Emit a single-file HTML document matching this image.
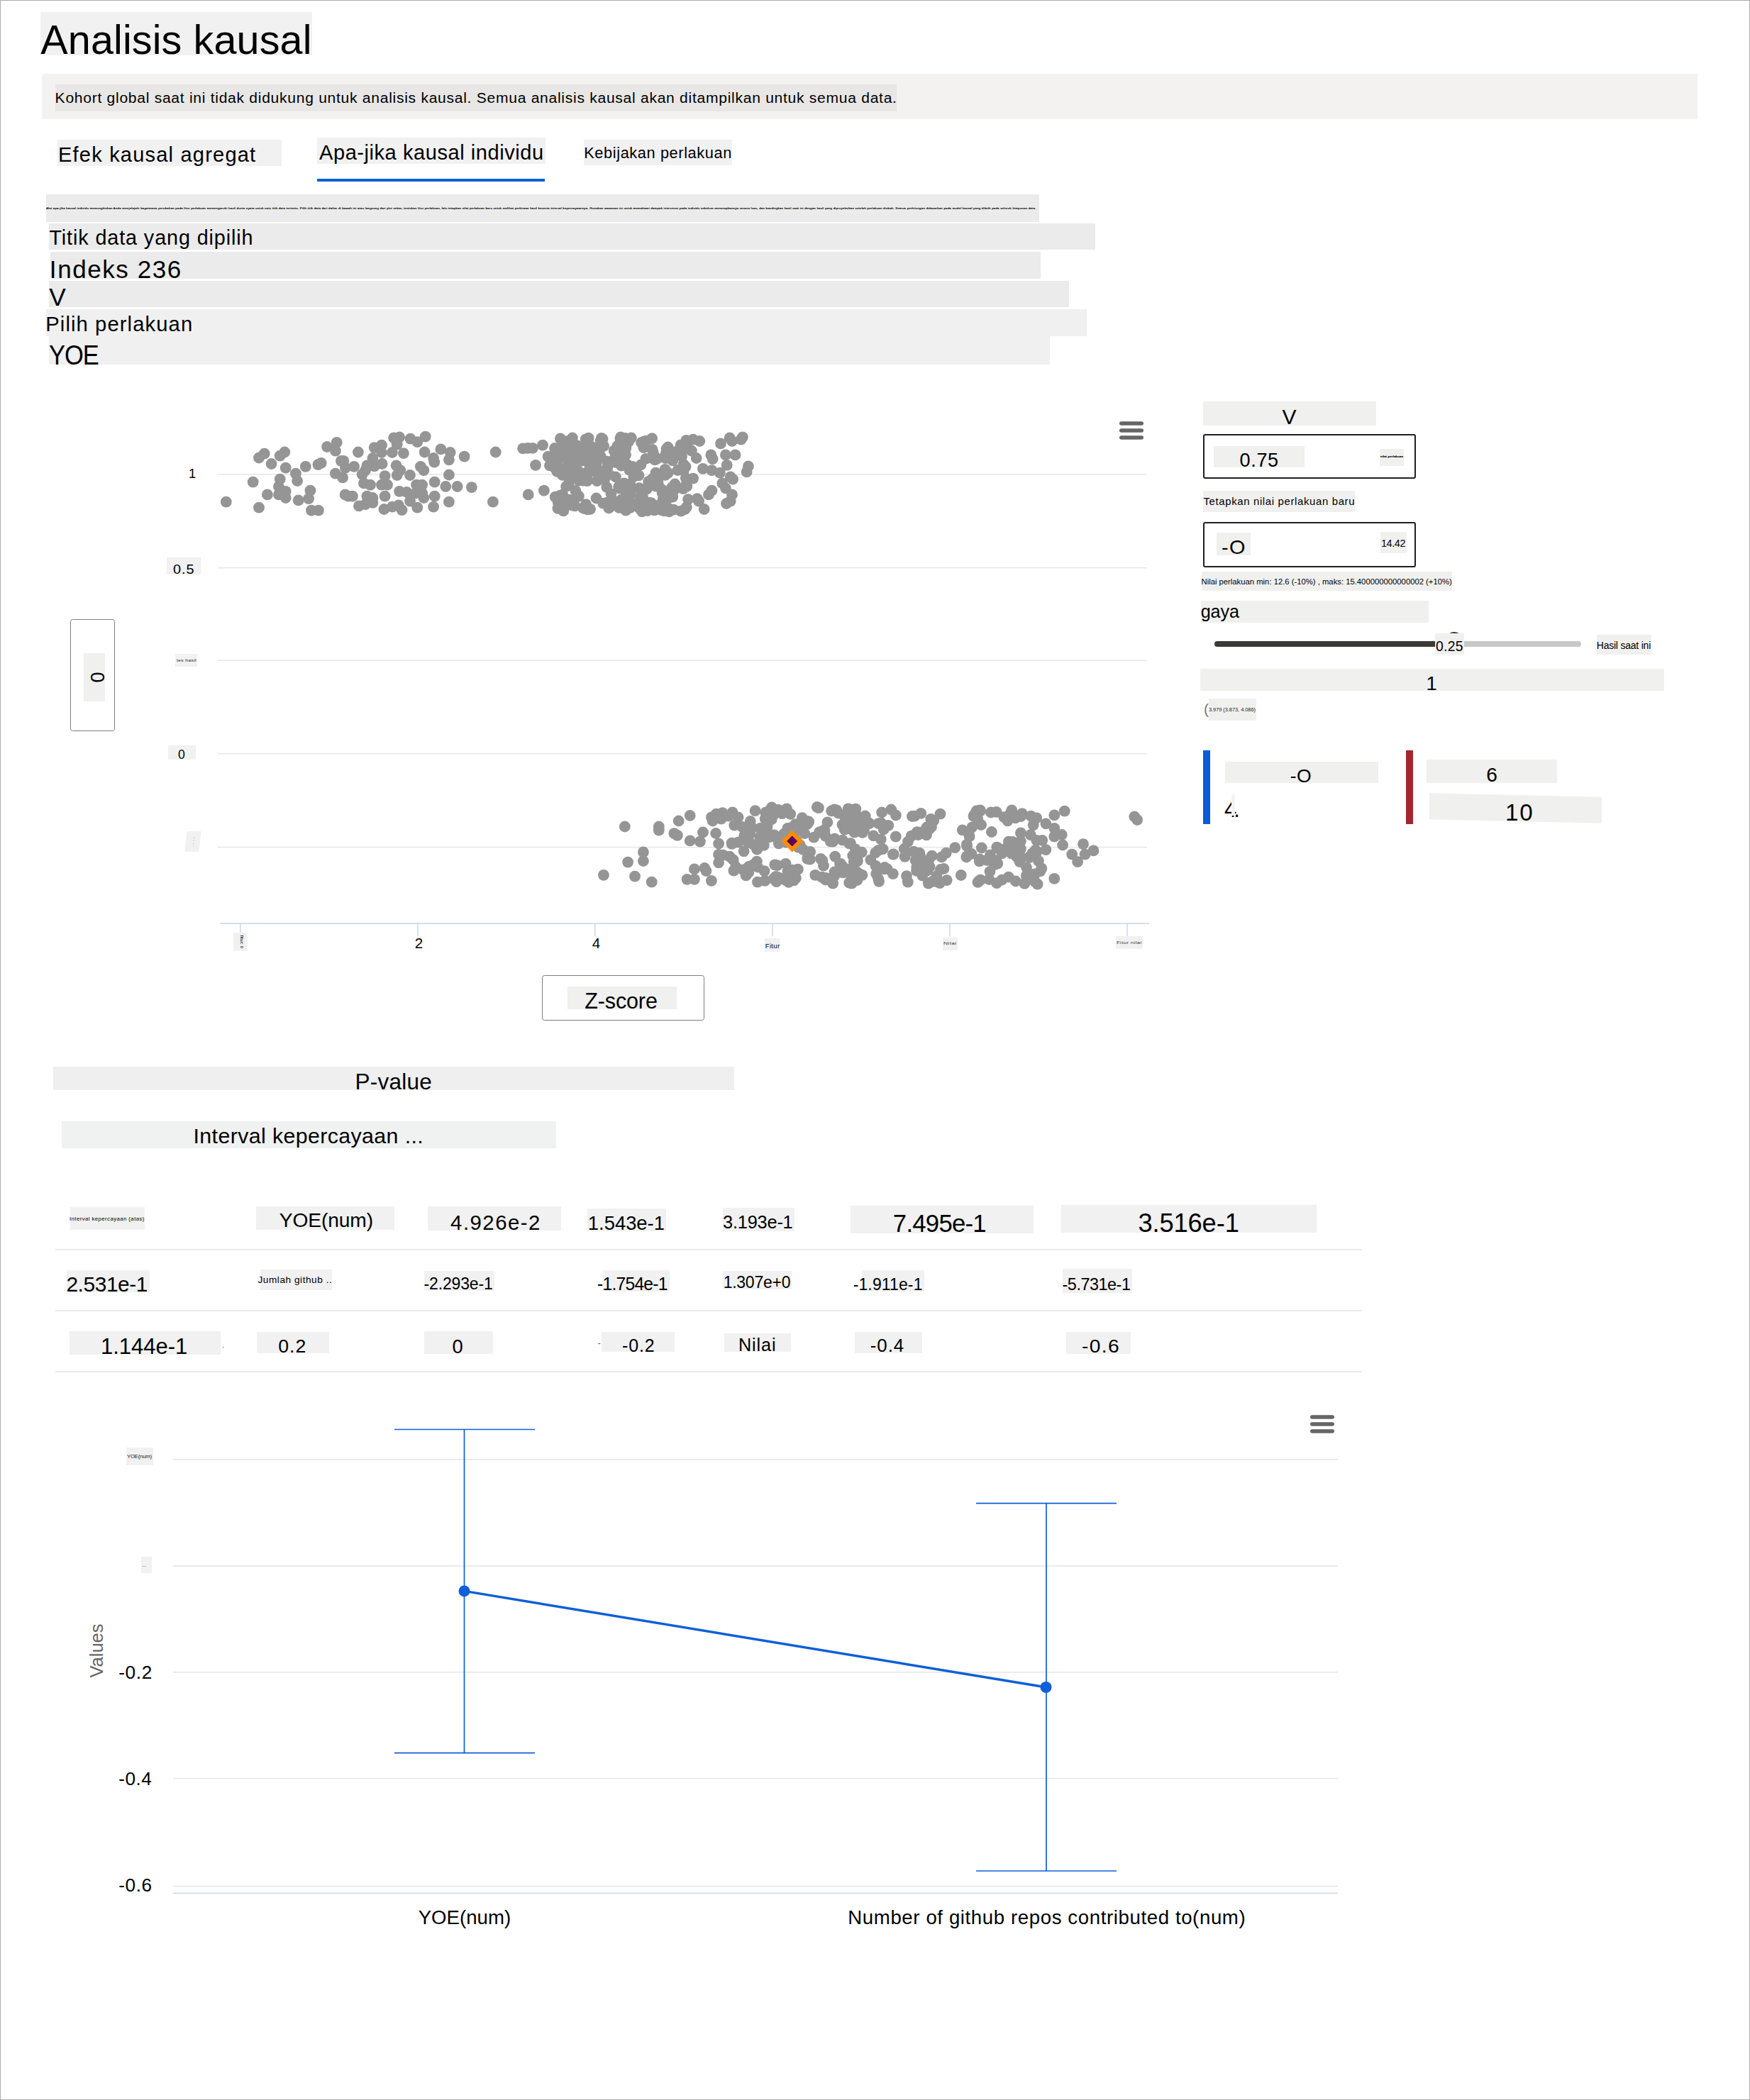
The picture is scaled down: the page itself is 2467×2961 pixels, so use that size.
<!DOCTYPE html>
<html lang="id"><head><meta charset="utf-8"><title>Analisis kausal</title>
<style>
html,body{margin:0;padding:0;background:#fff}
body{width:2467px;height:2961px;position:relative;overflow:hidden;font-family:"Liberation Sans",sans-serif;color:#000}
#frame{position:absolute;left:0;top:0;width:2467px;height:2961px;box-sizing:border-box;border:1px solid #adadad;pointer-events:none;z-index:5}
.sec{margin:0;padding:0;font-weight:normal;font-size:0}
.b{position:absolute;display:block}
.t{position:absolute;white-space:nowrap;font-weight:400}
.chart{position:absolute;overflow:visible}
.inp{position:absolute;box-sizing:border-box;border:2px solid #1f1f1f;border-radius:3px;background:#fff}
.dd{position:absolute;box-sizing:border-box;border:1.9px solid #7e7d7b;border-radius:3.5px;background:#fff}
.sl{position:absolute}
</style></head>
<body>
<div id="frame"></div>
<h1 class="sec">
<span class="b" style="left:57.0px;top:17.0px;width:383.0px;height:60.5px;background:#f1f1f1;"></span>
<span class="t" style="left:57.30px;top:28.00px;font-size:57.56px;line-height:57.56px;letter-spacing:0.106px;">Analisis kausal</span>
</h1>
<div class="sec banner">
<span class="b" style="left:59.0px;top:104.0px;width:2334.0px;height:64.0px;background:#f3f2f1;"></span>
<span class="b" style="left:78.0px;top:119.0px;width:1185.7px;height:38.0px;background:#e8e7e6;"></span>
<span class="t" style="left:77.61px;top:127.00px;font-size:21.08px;line-height:21.08px;letter-spacing:0.712px;">Kohort global saat ini tidak didukung untuk analisis kausal. Semua analisis kausal akan ditampilkan untuk semua data.</span>
</div>
<nav class="sec tabs">
<span class="b" style="left:81.0px;top:196.6px;width:316.0px;height:37.9px;background:#f1f1f1;"></span>
<span class="t" style="left:81.97px;top:204.00px;font-size:29.07px;line-height:29.07px;letter-spacing:1.186px;">Efek kausal agregat</span>
<span class="b" style="left:447.0px;top:193.7px;width:322.0px;height:37.8px;background:#f1f1f1;"></span>
<span class="t" style="left:450.00px;top:201.00px;font-size:29.07px;line-height:29.07px;letter-spacing:0.540px;">Apa-jika kausal individu</span>
<span class="b" style="left:447.0px;top:251.5px;width:321.0px;height:4.7px;background:#0f5fd7;"></span>
<span class="b" style="left:823.0px;top:196.6px;width:209.0px;height:36.4px;background:#f1f1f1;"></span>
<span class="t" style="left:823.26px;top:205.00px;font-size:21.80px;line-height:21.80px;letter-spacing:0.585px;">Kebijakan perlakuan</span>
</nav>
<section class="sec selectors">
<span class="b" style="left:65.0px;top:274.0px;width:1400.0px;height:39.0px;background:#ebebeb;"></span>
<span class="t" style="left:65.30px;top:292.00px;font-size:4.20px;line-height:4.20px;letter-spacing:0.210px;transform:scaleX(1.0401);transform-origin:0 0;-webkit-text-stroke:0.15px #000;">Alat apa-jika kausal individu memungkinkan Anda menjelajahi bagaimana perubahan pada fitur perlakuan memengaruhi hasil dunia nyata untuk satu titik data tertentu. Pilih titik data dari daftar di bawah ini atau langsung dari plot sebar, tentukan fitur perlakuan, lalu tetapkan nilai perlakuan baru untuk melihat perkiraan hasil beserta interval kepercayaannya. Gunakan wawasan ini untuk memahami dampak intervensi pada individu sebelum menerapkannya secara luas, dan bandingkan hasil saat ini dengan hasil yang diproyeksikan setelah perlakuan diubah. Semua perhitungan didasarkan pada model kausal yang dilatih pada seluruh himpunan data.</span>
<span class="b" style="left:69.0px;top:315.0px;width:1475.0px;height:37.0px;background:#ebebeb;"></span>
<span class="t" style="left:69.42px;top:321.00px;font-size:28.78px;line-height:28.78px;letter-spacing:0.893px;">Titik data yang dipilih</span>
<span class="b" style="left:71.0px;top:354.8px;width:1396.0px;height:38.0px;background:#ebebeb;"></span>
<span class="t" style="left:69.85px;top:362.00px;font-size:35.03px;line-height:35.03px;letter-spacing:1.562px;">Indeks 236</span>
<span class="b" style="left:69.0px;top:396.0px;width:1438.0px;height:37.0px;background:#ebebeb;"></span>
<span class="t" style="left:69.32px;top:401.00px;font-size:35.32px;line-height:35.32px;">V</span>
<span class="b" style="left:65.0px;top:435.5px;width:1467.0px;height:38.5px;background:#f0f0f0;"></span>
<span class="t" style="left:64.26px;top:443.00px;font-size:29.22px;line-height:29.22px;letter-spacing:1.088px;">Pilih perlakuan</span>
<span class="b" style="left:69.0px;top:474.0px;width:1411.0px;height:40.0px;background:#f0f0f0;"></span>
<span class="t" style="left:69.31px;top:481.00px;font-size:39.10px;line-height:39.10px;letter-spacing:-1.173px;transform:scaleX(0.8817);transform-origin:0 0;">YOE</span>
</section>
<aside class="sec panel">
<span class="b" style="left:1696.0px;top:565.5px;width:244.0px;height:34.3px;background:#f0f0ef;"></span>
<span class="t" style="left:1807.47px;top:573.00px;font-size:29.94px;line-height:29.94px;">V</span>
<div class="inp" style="left:1696px;top:612.2px;width:300px;height:63.2px"></div>
<span class="b" style="left:1710.9px;top:628.9px;width:128.6px;height:30.4px;background:#f0f0ef;"></span>
<span class="t" style="left:1747.52px;top:635.00px;font-size:27.12px;line-height:27.12px;letter-spacing:0.641px;">0.75</span>
<span class="b" style="left:1944.7px;top:632.7px;width:34.3px;height:24.0px;background:#f0f0ef;"></span>
<span class="t" style="left:1945.71px;top:643.00px;font-size:3.40px;line-height:3.40px;letter-spacing:0.170px;transform:scaleX(1.3188);transform-origin:0 0;-webkit-text-stroke:0.2px #000;">nilai perlakuan</span>
<span class="b" style="left:1696.0px;top:691.9px;width:213.7px;height:30.4px;background:#f0f0ef;"></span>
<span class="t" style="left:1696.40px;top:700.00px;font-size:14.97px;line-height:14.97px;letter-spacing:0.628px;">Tetapkan nilai perlakuan baru</span>
<div class="inp" style="left:1696px;top:736px;width:300px;height:63.5px"></div>
<span class="b" style="left:1715.0px;top:751.3px;width:48.4px;height:31.6px;background:#f0f0ef;"></span>
<span class="t" style="left:1722.10px;top:759.00px;font-size:26.89px;line-height:26.89px;letter-spacing:1.344px;transform:scaleX(1.0740);transform-origin:0 0;">-O</span>
<span class="b" style="left:1945.8px;top:750.0px;width:37.1px;height:30.0px;background:#f0f0ef;"></span>
<span class="t" style="left:1946.92px;top:759.00px;font-size:14.83px;line-height:14.83px;letter-spacing:-0.445px;transform:scaleX(0.9748);transform-origin:0 0;">14.42</span>
<span class="b" style="left:1694.0px;top:806.0px;width:353.0px;height:27.0px;background:#f0f0ef;"></span>
<span class="t" style="left:1693.49px;top:815.00px;font-size:11.34px;line-height:11.34px;letter-spacing:-0.023px;">Nilai perlakuan min: 12.6 (-10%) , maks: 15.400000000000002 (+10%)</span>
<span class="b" style="left:1693.0px;top:847.0px;width:321.0px;height:30.7px;background:#f0f0ef;"></span>
<span class="t" style="left:1692.69px;top:850.00px;font-size:25.20px;line-height:25.20px;letter-spacing:-0.083px;">gaya</span>
<div class="sl" style="left:1711.5px;top:903.5px;width:316px;height:8.5px;background:#3b3a39;border-radius:4.25px 0 0 4.25px"></div>
<div class="sl" style="left:2060px;top:903.8px;width:168.8px;height:8px;background:#c8c8c8;border-radius:0 4px 4px 0"></div>
<div class="sl" style="left:2038.5px;top:891.4px;width:22px;height:22px;border:3px solid #3b3a39;border-radius:50%;box-sizing:border-box;background:#fff"></div>
<span class="b" style="left:2022.9px;top:893.3px;width:41.1px;height:30.1px;background:#f0f0ef;"></span>
<span class="t" style="left:2023.93px;top:902.00px;font-size:19.35px;line-height:19.35px;letter-spacing:0.304px;">0.25</span>
<span class="b" style="left:2250.7px;top:894.7px;width:77.3px;height:28.3px;background:#f0f0ef;"></span>
<span class="t" style="left:2250.78px;top:904.00px;font-size:13.95px;line-height:13.95px;letter-spacing:-0.194px;">Hasil saat ini</span>
<span class="b" style="left:1692.0px;top:943.0px;width:654.0px;height:31.0px;background:#f0f0ef;"></span>
<span class="t" style="left:2010.54px;top:950.00px;font-size:27.40px;line-height:27.40px;">1</span>
<span class="t" style="left:1697.04px;top:989.00px;font-size:21.00px;line-height:21.00px;color:#777;">(</span>
<span class="b" style="left:1703.5px;top:985.0px;width:67.5px;height:31.0px;background:#f0f0ef;"></span>
<span class="t" style="left:1703.94px;top:997.00px;font-size:7.41px;line-height:7.41px;letter-spacing:-0.034px;color:#222;">3.979 (3.873, 4.086)</span>
<span class="b" style="left:1696.0px;top:1057.8px;width:9.8px;height:104.0px;background:#0b5cd7;"></span>
<span class="b" style="left:1726.9px;top:1073.8px;width:216.0px;height:30.2px;background:#f0f0ef;"></span>
<span class="t" style="left:1818.70px;top:1081.00px;font-size:26.60px;line-height:26.60px;letter-spacing:0.469px;">-O</span>
<span class="t" style="left:1725.98px;top:1126.00px;font-size:31.07px;line-height:31.07px;">4</span>
<span class="b" style="left:1735.5px;top:1120.0px;width:5.7px;height:30.0px;background:#f4f4f4;"></span>
<span class="t" style="left:1739.20px;top:1126.00px;font-size:31.07px;line-height:31.07px;">.</span>
<span class="b" style="left:1982.2px;top:1057.8px;width:9.8px;height:104.0px;background:#a4262c;"></span>
<span class="b" style="left:2011.0px;top:1071.0px;width:184.0px;height:33.3px;background:#f0f0ef;"></span>
<span class="t" style="left:2095.19px;top:1079.00px;font-size:28.11px;line-height:28.11px;">6</span>
<span class="b" style="left:2015.4px;top:1121.0px;width:243.0px;height:37.0px;background:#f0f0ef;transform:skewY(1.25deg);"></span>
<span class="t" style="left:2122.01px;top:1130.00px;font-size:32.91px;line-height:32.91px;letter-spacing:1.645px;transform:scaleX(1.0100);transform-origin:0 0;">10</span>
</aside>
<section class="sec tablewrap">
<span class="b" style="left:74.7px;top:1504.0px;width:959.9px;height:33.0px;background:#efefef;"></span>
<span class="t" style="left:500.48px;top:1510.00px;font-size:31.54px;line-height:31.54px;letter-spacing:0.227px;">P-value</span>
<span class="b" style="left:86.7px;top:1580.8px;width:697.1px;height:38.0px;background:#f0f1f1;"></span>
<span class="t" style="left:272.57px;top:1586.00px;font-size:30.38px;line-height:30.38px;letter-spacing:0.365px;">Interval kepercayaan ...</span>
<span class="b" style="left:78.0px;top:1761.2px;width:1842.0px;height:1.5px;background:#ebebeb;"></span>
<span class="b" style="left:78.0px;top:1847.2px;width:1842.0px;height:1.5px;background:#ebebeb;"></span>
<span class="b" style="left:78.0px;top:1933.2px;width:1842.0px;height:1.5px;background:#ebebeb;"></span>
<span class="b" style="left:98.9px;top:1702.0px;width:104.8px;height:31.7px;background:#f1f1f1;"></span>
<span class="t" style="left:98.29px;top:1715.00px;font-size:7.70px;line-height:7.70px;letter-spacing:0.385px;transform:scaleX(1.0217);transform-origin:0 0;">Interval kepercayaan (atas)</span>
<span class="b" style="left:361.1px;top:1700.6px;width:194.9px;height:33.7px;background:#f1f1f1;"></span>
<span class="t" style="left:393.74px;top:1706.00px;font-size:28.20px;line-height:28.20px;letter-spacing:-0.120px;">YOE(num)</span>
<span class="b" style="left:602.9px;top:1700.9px;width:188.5px;height:34.1px;background:#f1f1f1;"></span>
<span class="t" style="left:635.11px;top:1709.00px;font-size:29.38px;line-height:29.38px;letter-spacing:1.469px;">4.926e-2</span>
<span class="b" style="left:828.0px;top:1704.3px;width:111.4px;height:31.4px;background:#f1f1f1;"></span>
<span class="t" style="left:828.84px;top:1711.00px;font-size:27.40px;line-height:27.40px;">1.543e-1</span>
<span class="b" style="left:1018.9px;top:1702.9px;width:101.1px;height:32.8px;background:#f1f1f1;"></span>
<span class="t" style="left:1019.11px;top:1711.00px;font-size:25.42px;line-height:25.42px;letter-spacing:-0.238px;">3.193e-1</span>
<span class="b" style="left:1199.0px;top:1700.0px;width:257.6px;height:38.6px;background:#f1f1f1;"></span>
<span class="t" style="left:1258.86px;top:1708.00px;font-size:34.75px;line-height:34.75px;letter-spacing:-0.767px;">7.495e-1</span>
<span class="b" style="left:1496.0px;top:1699.4px;width:359.7px;height:38.6px;background:#f1f1f1;"></span>
<span class="t" style="left:1604.43px;top:1707.00px;font-size:36.30px;line-height:36.30px;letter-spacing:-0.128px;">3.516e-1</span>
<span class="b" style="left:94.3px;top:1790.6px;width:116.6px;height:31.4px;background:#f1f1f1;"></span>
<span class="t" style="left:93.40px;top:1796.00px;font-size:29.94px;line-height:29.94px;letter-spacing:-0.440px;">2.531e-1</span>
<span class="b" style="left:366.6px;top:1790.0px;width:101.1px;height:29.0px;background:#f1f1f1;"></span>
<span class="t" style="left:363.50px;top:1798.00px;font-size:13.66px;line-height:13.66px;letter-spacing:0.525px;">Jumlah github ..</span>
<span class="b" style="left:597.7px;top:1792.0px;width:98.9px;height:28.0px;background:#f1f1f1;"></span>
<span class="t" style="left:597.56px;top:1799.00px;font-size:23.02px;line-height:23.02px;letter-spacing:-0.171px;">-2.293e-1</span>
<span class="b" style="left:850.0px;top:1791.4px;width:94.3px;height:29.5px;background:#f1f1f1;"></span>
<span class="t" style="left:842.29px;top:1798.00px;font-size:25.00px;line-height:25.00px;letter-spacing:-0.750px;transform:scaleX(0.9843);transform-origin:0 0;">-1.754e-1</span>
<span class="b" style="left:1018.9px;top:1792.0px;width:96.8px;height:26.0px;background:#f1f1f1;"></span>
<span class="t" style="left:1019.67px;top:1797.00px;font-size:23.02px;line-height:23.02px;letter-spacing:-0.266px;">1.307e+0</span>
<span class="b" style="left:1214.9px;top:1791.4px;width:88.0px;height:29.2px;background:#f1f1f1;"></span>
<span class="t" style="left:1202.66px;top:1800.00px;font-size:23.02px;line-height:23.02px;letter-spacing:0.120px;">-1.911e-1</span>
<span class="b" style="left:1498.0px;top:1789.0px;width:98.0px;height:33.9px;background:#f1f1f1;"></span>
<span class="t" style="left:1497.54px;top:1800.00px;font-size:23.45px;line-height:23.45px;letter-spacing:-0.493px;">-5.731e-1</span>
<span class="b" style="left:97.7px;top:1876.6px;width:213.2px;height:33.4px;background:#f1f1f1;"></span>
<span class="t" style="left:141.97px;top:1883.00px;font-size:31.07px;line-height:31.07px;letter-spacing:-0.037px;">1.144e-1</span>
<span class="b" style="left:313.6px;top:1898.6px;width:1.6px;height:1.6px;background:#222;"></span>
<span class="b" style="left:362.3px;top:1877.7px;width:101.4px;height:30.0px;background:#f1f1f1;"></span>
<span class="t" style="left:392.33px;top:1885.00px;font-size:26.69px;line-height:26.69px;letter-spacing:0.948px;">0.2</span>
<span class="b" style="left:597.7px;top:1877.0px;width:97.2px;height:32.4px;background:#f1f1f1;"></span>
<span class="t" style="left:637.50px;top:1885.00px;font-size:27.40px;line-height:27.40px;">0</span>
<span class="t" style="left:842.86px;top:1888.00px;font-size:12.00px;line-height:12.00px;color:#555;">-</span>
<span class="b" style="left:848.0px;top:1878.0px;width:103.4px;height:28.3px;background:#f1f1f1;"></span>
<span class="t" style="left:876.88px;top:1885.00px;font-size:25.00px;line-height:25.00px;letter-spacing:0.925px;">-0.2</span>
<span class="b" style="left:1020.9px;top:1880.0px;width:94.0px;height:26.3px;background:#f1f1f1;"></span>
<span class="t" style="left:1040.88px;top:1884.00px;font-size:25.29px;line-height:25.29px;letter-spacing:0.894px;">Nilai</span>
<span class="b" style="left:1204.9px;top:1878.0px;width:95.1px;height:29.7px;background:#f1f1f1;"></span>
<span class="t" style="left:1226.84px;top:1885.00px;font-size:25.85px;line-height:25.85px;letter-spacing:0.917px;">-0.4</span>
<span class="b" style="left:1502.9px;top:1877.7px;width:90.8px;height:30.9px;background:#f1f1f1;"></span>
<span class="t" style="left:1525.03px;top:1886.00px;font-size:25.00px;line-height:25.00px;letter-spacing:1.250px;transform:scaleX(1.1272);transform-origin:0 0;">-0.6</span>
</section>
<svg class="chart" style="left:0;top:540px" width="1660" height="920" viewBox="0 540 1660 920" font-family="Liberation Sans, sans-serif">
<rect x="307" y="668.05" width="1310" height="1.5" fill="#e6e6e6"/>
<rect x="307" y="799.85" width="1310" height="1.5" fill="#e6e6e6"/>
<rect x="307" y="930.25" width="1310" height="1.5" fill="#e6e6e6"/>
<rect x="307" y="1061.85" width="1310" height="1.5" fill="#e6e6e6"/>
<rect x="307" y="1193.85" width="1310" height="1.5" fill="#e6e6e6"/>
<g fill="#959595">
<circle cx="318.8" cy="707.7" r="7.9"/>
<circle cx="356.7" cy="679.6" r="7.9"/>
<circle cx="365.0" cy="715.7" r="7.9"/>
<circle cx="365.0" cy="645.5" r="7.9"/>
<circle cx="372.7" cy="639.6" r="7.9"/>
<circle cx="376.9" cy="697.4" r="7.9"/>
<circle cx="382.6" cy="654.0" r="7.9"/>
<circle cx="394.7" cy="642.6" r="7.9"/>
<circle cx="401.3" cy="637.5" r="7.9"/>
<circle cx="402.7" cy="659.7" r="7.9"/>
<circle cx="394.7" cy="675.7" r="7.9"/>
<circle cx="392.9" cy="686.0" r="7.9"/>
<circle cx="392.9" cy="697.4" r="7.9"/>
<circle cx="402.7" cy="692.9" r="7.9"/>
<circle cx="402.7" cy="702.0" r="7.9"/>
<circle cx="416.9" cy="667.7" r="7.9"/>
<circle cx="419.1" cy="678.0" r="7.9"/>
<circle cx="420.7" cy="705.4" r="7.9"/>
<circle cx="430.8" cy="657.9" r="7.9"/>
<circle cx="435.1" cy="703.1" r="7.9"/>
<circle cx="437.4" cy="691.7" r="7.9"/>
<circle cx="439.0" cy="719.6" r="7.9"/>
<circle cx="448.9" cy="719.6" r="7.9"/>
<circle cx="448.4" cy="655.1" r="7.9"/>
<circle cx="452.7" cy="652.9" r="7.9"/>
<circle cx="461.0" cy="630.0" r="7.9"/>
<circle cx="474.7" cy="623.8" r="7.9"/>
<circle cx="472.9" cy="635.7" r="7.9"/>
<circle cx="472.9" cy="667.7" r="7.9"/>
<circle cx="483.1" cy="673.4" r="7.9"/>
<circle cx="480.9" cy="649.9" r="7.9"/>
<circle cx="484.3" cy="649.9" r="7.9"/>
<circle cx="487.0" cy="659.7" r="7.9"/>
<circle cx="499.1" cy="657.9" r="7.9"/>
<circle cx="504.9" cy="637.5" r="7.9"/>
<circle cx="486.6" cy="697.4" r="7.9"/>
<circle cx="491.1" cy="699.7" r="7.9"/>
<circle cx="496.9" cy="699.7" r="7.9"/>
<circle cx="506.0" cy="713.4" r="7.9"/>
<circle cx="515.1" cy="711.1" r="7.9"/>
<circle cx="525.4" cy="708.9" r="7.9"/>
<circle cx="517.4" cy="699.7" r="7.9"/>
<circle cx="525.4" cy="702.0" r="7.9"/>
<circle cx="512.9" cy="681.4" r="7.9"/>
<circle cx="522.0" cy="683.7" r="7.9"/>
<circle cx="510.6" cy="668.9" r="7.9"/>
<circle cx="515.1" cy="663.1" r="7.9"/>
<circle cx="517.4" cy="656.3" r="7.9"/>
<circle cx="525.4" cy="646.0" r="7.9"/>
<circle cx="527.7" cy="657.4" r="7.9"/>
<circle cx="527.7" cy="631.1" r="7.9"/>
<circle cx="538.0" cy="627.7" r="7.9"/>
<circle cx="538.0" cy="638.0" r="7.9"/>
<circle cx="538.7" cy="654.0" r="7.9"/>
<circle cx="542.6" cy="671.1" r="7.9"/>
<circle cx="538.0" cy="683.7" r="7.9"/>
<circle cx="546.0" cy="683.7" r="7.9"/>
<circle cx="542.6" cy="699.7" r="7.9"/>
<circle cx="541.4" cy="718.0" r="7.9"/>
<circle cx="552.9" cy="714.6" r="7.9"/>
<circle cx="562.0" cy="712.3" r="7.9"/>
<circle cx="566.6" cy="719.1" r="7.9"/>
<circle cx="552.9" cy="638.0" r="7.9"/>
<circle cx="555.1" cy="617.4" r="7.9"/>
<circle cx="563.1" cy="616.3" r="7.9"/>
<circle cx="559.7" cy="626.6" r="7.9"/>
<circle cx="568.9" cy="639.1" r="7.9"/>
<circle cx="578.5" cy="618.6" r="7.9"/>
<circle cx="588.3" cy="623.1" r="7.9"/>
<circle cx="599.7" cy="615.6" r="7.9"/>
<circle cx="598.6" cy="637.5" r="7.9"/>
<circle cx="558.6" cy="656.3" r="7.9"/>
<circle cx="564.3" cy="663.1" r="7.9"/>
<circle cx="559.7" cy="670.0" r="7.9"/>
<circle cx="578.0" cy="670.0" r="7.9"/>
<circle cx="592.9" cy="657.9" r="7.9"/>
<circle cx="597.4" cy="663.1" r="7.9"/>
<circle cx="563.1" cy="692.9" r="7.9"/>
<circle cx="573.4" cy="694.0" r="7.9"/>
<circle cx="580.3" cy="697.4" r="7.9"/>
<circle cx="587.1" cy="683.7" r="7.9"/>
<circle cx="595.1" cy="683.7" r="7.9"/>
<circle cx="587.1" cy="695.1" r="7.9"/>
<circle cx="595.1" cy="695.1" r="7.9"/>
<circle cx="597.4" cy="702.0" r="7.9"/>
<circle cx="578.0" cy="706.6" r="7.9"/>
<circle cx="588.3" cy="715.7" r="7.9"/>
<circle cx="611.1" cy="646.0" r="7.9"/>
<circle cx="612.3" cy="651.7" r="7.9"/>
<circle cx="621.4" cy="633.4" r="7.9"/>
<circle cx="634.7" cy="638.0" r="7.9"/>
<circle cx="632.9" cy="648.3" r="7.9"/>
<circle cx="654.6" cy="643.7" r="7.9"/>
<circle cx="632.9" cy="669.5" r="7.9"/>
<circle cx="612.7" cy="679.6" r="7.9"/>
<circle cx="628.3" cy="686.0" r="7.9"/>
<circle cx="644.7" cy="686.0" r="7.9"/>
<circle cx="664.9" cy="687.1" r="7.9"/>
<circle cx="612.7" cy="699.7" r="7.9"/>
<circle cx="611.1" cy="714.6" r="7.9"/>
<circle cx="632.9" cy="707.7" r="7.9"/>
<circle cx="698.7" cy="637.5" r="7.9"/>
<circle cx="694.9" cy="707.7" r="7.9"/>
<circle cx="737.1" cy="632.3" r="7.9"/>
<circle cx="744.0" cy="631.8" r="7.9"/>
<circle cx="750.9" cy="631.8" r="7.9"/>
<circle cx="765.0" cy="627.7" r="7.9"/>
<circle cx="755.0" cy="655.8" r="7.9"/>
<circle cx="772.6" cy="643.7" r="7.9"/>
<circle cx="774.9" cy="656.3" r="7.9"/>
<circle cx="744.7" cy="697.4" r="7.9"/>
<circle cx="766.9" cy="691.7" r="7.9"/>
<circle cx="1002.3" cy="641.4" r="7.9"/>
<circle cx="1004.6" cy="647.1" r="7.9"/>
<circle cx="1016.0" cy="625.4" r="7.9"/>
<circle cx="1028.6" cy="617.4" r="7.9"/>
<circle cx="1032.0" cy="622.0" r="7.9"/>
<circle cx="1046.9" cy="616.3" r="7.9"/>
<circle cx="1044.6" cy="619.7" r="7.9"/>
<circle cx="1022.9" cy="641.4" r="7.9"/>
<circle cx="1036.6" cy="641.4" r="7.9"/>
<circle cx="1024.7" cy="655.8" r="7.9"/>
<circle cx="1054.9" cy="657.4" r="7.9"/>
<circle cx="1052.6" cy="665.4" r="7.9"/>
<circle cx="990.9" cy="660.9" r="7.9"/>
<circle cx="1003.4" cy="663.1" r="7.9"/>
<circle cx="1014.9" cy="666.6" r="7.9"/>
<circle cx="1029.7" cy="672.3" r="7.9"/>
<circle cx="1033.1" cy="675.7" r="7.9"/>
<circle cx="1018.3" cy="681.4" r="7.9"/>
<circle cx="1022.9" cy="688.3" r="7.9"/>
<circle cx="1032.0" cy="697.4" r="7.9"/>
<circle cx="1003.4" cy="691.7" r="7.9"/>
<circle cx="998.9" cy="697.4" r="7.9"/>
<circle cx="1029.7" cy="706.6" r="7.9"/>
<circle cx="1024.0" cy="710.0" r="7.9"/>
<circle cx="982.9" cy="703.1" r="7.9"/>
<circle cx="985.1" cy="706.6" r="7.9"/>
<circle cx="992.7" cy="718.0" r="7.9"/>
<circle cx="965.7" cy="718.0" r="7.9"/>
<circle cx="977.1" cy="619.7" r="7.9"/>
<circle cx="986.3" cy="622.0" r="7.9"/>
<circle cx="974.9" cy="635.7" r="7.9"/>
<circle cx="981.7" cy="646.0" r="7.9"/>
<circle cx="977.1" cy="674.6" r="7.9"/>
<circle cx="843.5" cy="632.0" r="7.9"/>
<circle cx="905.7" cy="623.7" r="7.9"/>
<circle cx="883.8" cy="654.8" r="7.9"/>
<circle cx="793.0" cy="669.8" r="7.9"/>
<circle cx="789.1" cy="662.0" r="7.9"/>
<circle cx="795.3" cy="625.6" r="7.9"/>
<circle cx="862.7" cy="703.6" r="7.9"/>
<circle cx="805.5" cy="639.7" r="7.9"/>
<circle cx="901.2" cy="716.5" r="7.9"/>
<circle cx="891.6" cy="658.0" r="7.9"/>
<circle cx="967.5" cy="620.9" r="7.9"/>
<circle cx="945.1" cy="646.7" r="7.9"/>
<circle cx="809.4" cy="628.5" r="7.9"/>
<circle cx="840.6" cy="702.5" r="7.9"/>
<circle cx="816.3" cy="677.6" r="7.9"/>
<circle cx="903.4" cy="655.5" r="7.9"/>
<circle cx="886.1" cy="622.7" r="7.9"/>
<circle cx="793.3" cy="637.8" r="7.9"/>
<circle cx="841.7" cy="678.1" r="7.9"/>
<circle cx="868.1" cy="647.8" r="7.9"/>
<circle cx="932.9" cy="690.1" r="7.9"/>
<circle cx="828.4" cy="676.9" r="7.9"/>
<circle cx="881.8" cy="708.8" r="7.9"/>
<circle cx="920.6" cy="646.5" r="7.9"/>
<circle cx="968.2" cy="628.5" r="7.9"/>
<circle cx="861.4" cy="696.3" r="7.9"/>
<circle cx="810.9" cy="667.8" r="7.9"/>
<circle cx="927.3" cy="676.7" r="7.9"/>
<circle cx="948.3" cy="649.3" r="7.9"/>
<circle cx="914.1" cy="679.0" r="7.9"/>
<circle cx="892.2" cy="664.4" r="7.9"/>
<circle cx="941.6" cy="716.1" r="7.9"/>
<circle cx="872.1" cy="686.4" r="7.9"/>
<circle cx="905.0" cy="721.3" r="7.9"/>
<circle cx="938.2" cy="646.2" r="7.9"/>
<circle cx="855.3" cy="686.9" r="7.9"/>
<circle cx="786.3" cy="664.9" r="7.9"/>
<circle cx="813.9" cy="628.4" r="7.9"/>
<circle cx="793.2" cy="697.4" r="7.9"/>
<circle cx="806.6" cy="642.2" r="7.9"/>
<circle cx="856.3" cy="708.4" r="7.9"/>
<circle cx="797.3" cy="663.6" r="7.9"/>
<circle cx="886.4" cy="709.6" r="7.9"/>
<circle cx="937.7" cy="707.6" r="7.9"/>
<circle cx="834.9" cy="660.0" r="7.9"/>
<circle cx="850.2" cy="709.7" r="7.9"/>
<circle cx="964.0" cy="632.0" r="7.9"/>
<circle cx="815.5" cy="640.6" r="7.9"/>
<circle cx="826.3" cy="667.4" r="7.9"/>
<circle cx="782.8" cy="660.4" r="7.9"/>
<circle cx="852.2" cy="676.0" r="7.9"/>
<circle cx="963.1" cy="689.2" r="7.9"/>
<circle cx="879.9" cy="681.5" r="7.9"/>
<circle cx="910.5" cy="621.7" r="7.9"/>
<circle cx="948.2" cy="700.6" r="7.9"/>
<circle cx="856.6" cy="658.3" r="7.9"/>
<circle cx="801.7" cy="683.2" r="7.9"/>
<circle cx="793.8" cy="623.1" r="7.9"/>
<circle cx="821.7" cy="633.2" r="7.9"/>
<circle cx="846.6" cy="621.6" r="7.9"/>
<circle cx="782.0" cy="632.0" r="7.9"/>
<circle cx="801.3" cy="654.5" r="7.9"/>
<circle cx="786.8" cy="708.7" r="7.9"/>
<circle cx="829.9" cy="652.8" r="7.9"/>
<circle cx="851.2" cy="629.0" r="7.9"/>
<circle cx="943.3" cy="721.3" r="7.9"/>
<circle cx="798.3" cy="626.8" r="7.9"/>
<circle cx="847.1" cy="644.1" r="7.9"/>
<circle cx="939.5" cy="633.1" r="7.9"/>
<circle cx="786.4" cy="716.8" r="7.9"/>
<circle cx="882.4" cy="631.5" r="7.9"/>
<circle cx="885.2" cy="618.9" r="7.9"/>
<circle cx="882.3" cy="719.7" r="7.9"/>
<circle cx="946.0" cy="689.8" r="7.9"/>
<circle cx="831.6" cy="654.9" r="7.9"/>
<circle cx="813.7" cy="697.8" r="7.9"/>
<circle cx="883.2" cy="698.6" r="7.9"/>
<circle cx="844.6" cy="639.6" r="7.9"/>
<circle cx="936.2" cy="720.4" r="7.9"/>
<circle cx="944.0" cy="701.4" r="7.9"/>
<circle cx="937.5" cy="694.4" r="7.9"/>
<circle cx="825.1" cy="670.9" r="7.9"/>
<circle cx="849.6" cy="619.1" r="7.9"/>
<circle cx="787.3" cy="645.6" r="7.9"/>
<circle cx="963.7" cy="663.4" r="7.9"/>
<circle cx="960.0" cy="720.7" r="7.9"/>
<circle cx="963.5" cy="654.7" r="7.9"/>
<circle cx="823.9" cy="640.0" r="7.9"/>
<circle cx="819.4" cy="637.7" r="7.9"/>
<circle cx="900.6" cy="711.4" r="7.9"/>
<circle cx="941.7" cy="666.8" r="7.9"/>
<circle cx="906.1" cy="700.8" r="7.9"/>
<circle cx="798.1" cy="686.0" r="7.9"/>
<circle cx="924.5" cy="666.7" r="7.9"/>
<circle cx="815.9" cy="699.6" r="7.9"/>
<circle cx="966.6" cy="658.0" r="7.9"/>
<circle cx="858.3" cy="716.4" r="7.9"/>
<circle cx="919.7" cy="634.0" r="7.9"/>
<circle cx="806.1" cy="632.0" r="7.9"/>
<circle cx="809.8" cy="703.6" r="7.9"/>
<circle cx="968.3" cy="685.7" r="7.9"/>
<circle cx="848.6" cy="674.2" r="7.9"/>
<circle cx="806.9" cy="617.5" r="7.9"/>
<circle cx="966.5" cy="684.9" r="7.9"/>
<circle cx="882.1" cy="715.0" r="7.9"/>
<circle cx="864.4" cy="708.4" r="7.9"/>
<circle cx="939.0" cy="638.4" r="7.9"/>
<circle cx="829.8" cy="647.1" r="7.9"/>
<circle cx="827.7" cy="678.2" r="7.9"/>
<circle cx="831.3" cy="660.4" r="7.9"/>
<circle cx="806.9" cy="712.5" r="7.9"/>
<circle cx="849.2" cy="664.6" r="7.9"/>
<circle cx="892.8" cy="711.9" r="7.9"/>
<circle cx="861.9" cy="713.3" r="7.9"/>
<circle cx="881.5" cy="618.0" r="7.9"/>
<circle cx="865.6" cy="635.4" r="7.9"/>
<circle cx="782.7" cy="700.7" r="7.9"/>
<circle cx="814.7" cy="666.2" r="7.9"/>
<circle cx="919.8" cy="675.0" r="7.9"/>
<circle cx="843.9" cy="670.9" r="7.9"/>
<circle cx="887.5" cy="699.1" r="7.9"/>
<circle cx="802.2" cy="675.4" r="7.9"/>
<circle cx="829.2" cy="645.4" r="7.9"/>
<circle cx="928.7" cy="669.8" r="7.9"/>
<circle cx="888.7" cy="696.6" r="7.9"/>
<circle cx="955.4" cy="663.0" r="7.9"/>
<circle cx="898.4" cy="669.6" r="7.9"/>
<circle cx="879.3" cy="689.4" r="7.9"/>
<circle cx="867.9" cy="672.5" r="7.9"/>
<circle cx="872.8" cy="715.8" r="7.9"/>
<circle cx="914.9" cy="708.9" r="7.9"/>
<circle cx="961.0" cy="643.5" r="7.9"/>
<circle cx="888.3" cy="716.0" r="7.9"/>
<circle cx="941.6" cy="630.5" r="7.9"/>
<circle cx="805.1" cy="662.9" r="7.9"/>
<circle cx="795.8" cy="641.5" r="7.9"/>
<circle cx="930.9" cy="711.1" r="7.9"/>
<circle cx="811.3" cy="691.9" r="7.9"/>
<circle cx="907.4" cy="631.2" r="7.9"/>
<circle cx="949.7" cy="718.6" r="7.9"/>
<circle cx="823.7" cy="717.0" r="7.9"/>
<circle cx="857.7" cy="667.6" r="7.9"/>
<circle cx="970.1" cy="704.2" r="7.9"/>
<circle cx="812.7" cy="661.7" r="7.9"/>
<circle cx="880.0" cy="651.9" r="7.9"/>
<circle cx="819.2" cy="649.8" r="7.9"/>
<circle cx="919.2" cy="618.1" r="7.9"/>
<circle cx="887.3" cy="662.7" r="7.9"/>
<circle cx="785.4" cy="651.1" r="7.9"/>
<circle cx="900.5" cy="670.3" r="7.9"/>
<circle cx="794.2" cy="720.4" r="7.9"/>
<circle cx="931.8" cy="719.0" r="7.9"/>
<circle cx="801.9" cy="644.1" r="7.9"/>
<circle cx="789.5" cy="698.6" r="7.9"/>
<circle cx="833.4" cy="629.7" r="7.9"/>
<circle cx="862.2" cy="712.6" r="7.9"/>
<circle cx="937.6" cy="643.4" r="7.9"/>
<circle cx="810.4" cy="713.4" r="7.9"/>
<circle cx="890.4" cy="690.2" r="7.9"/>
<circle cx="799.0" cy="622.1" r="7.9"/>
<circle cx="795.8" cy="715.5" r="7.9"/>
<circle cx="902.5" cy="701.0" r="7.9"/>
<circle cx="797.9" cy="706.8" r="7.9"/>
<circle cx="794.7" cy="707.5" r="7.9"/>
<circle cx="868.2" cy="652.0" r="7.9"/>
<circle cx="887.1" cy="714.2" r="7.9"/>
<circle cx="832.9" cy="629.7" r="7.9"/>
<circle cx="882.1" cy="641.3" r="7.9"/>
<circle cx="802.8" cy="633.1" r="7.9"/>
<circle cx="791.6" cy="637.4" r="7.9"/>
<circle cx="841.3" cy="648.3" r="7.9"/>
<circle cx="926.3" cy="646.7" r="7.9"/>
<circle cx="877.0" cy="634.9" r="7.9"/>
<circle cx="847.9" cy="617.9" r="7.9"/>
<circle cx="829.6" cy="617.6" r="7.9"/>
<circle cx="921.3" cy="674.4" r="7.9"/>
<circle cx="818.0" cy="666.3" r="7.9"/>
<circle cx="959.6" cy="627.3" r="7.9"/>
<circle cx="937.6" cy="661.8" r="7.9"/>
<circle cx="876.1" cy="704.5" r="7.9"/>
<circle cx="856.7" cy="669.7" r="7.9"/>
<circle cx="912.7" cy="720.1" r="7.9"/>
<circle cx="916.3" cy="683.4" r="7.9"/>
<circle cx="858.9" cy="652.8" r="7.9"/>
<circle cx="792.3" cy="629.8" r="7.9"/>
<circle cx="830.6" cy="633.3" r="7.9"/>
<circle cx="798.1" cy="705.2" r="7.9"/>
<circle cx="947.4" cy="687.1" r="7.9"/>
<circle cx="835.6" cy="641.7" r="7.9"/>
<circle cx="837.7" cy="664.7" r="7.9"/>
<circle cx="811.9" cy="663.3" r="7.9"/>
<circle cx="832.0" cy="717.9" r="7.9"/>
<circle cx="966.8" cy="674.0" r="7.9"/>
<circle cx="828.4" cy="718.4" r="7.9"/>
<circle cx="840.8" cy="653.8" r="7.9"/>
<circle cx="782.2" cy="656.5" r="7.9"/>
<circle cx="820.2" cy="669.5" r="7.9"/>
<circle cx="782.9" cy="644.0" r="7.9"/>
<circle cx="799.1" cy="658.3" r="7.9"/>
<circle cx="789.9" cy="618.4" r="7.9"/>
<circle cx="839.8" cy="640.7" r="7.9"/>
<circle cx="893.3" cy="672.1" r="7.9"/>
<circle cx="924.6" cy="685.7" r="7.9"/>
<circle cx="918.0" cy="709.2" r="7.9"/>
<circle cx="856.0" cy="650.6" r="7.9"/>
<circle cx="969.1" cy="631.8" r="7.9"/>
<circle cx="919.6" cy="684.2" r="7.9"/>
<circle cx="790.3" cy="704.5" r="7.9"/>
<circle cx="951.5" cy="682.5" r="7.9"/>
<circle cx="808.5" cy="671.5" r="7.9"/>
<circle cx="877.8" cy="704.5" r="7.9"/>
<circle cx="934.9" cy="703.6" r="7.9"/>
<circle cx="893.0" cy="710.6" r="7.9"/>
<circle cx="911.8" cy="689.5" r="7.9"/>
<circle cx="825.7" cy="619.3" r="7.9"/>
<circle cx="807.3" cy="654.2" r="7.9"/>
<circle cx="801.9" cy="704.6" r="7.9"/>
<circle cx="888.1" cy="682.5" r="7.9"/>
<circle cx="901.0" cy="688.2" r="7.9"/>
<circle cx="875.0" cy="616.4" r="7.9"/>
<circle cx="933.6" cy="695.3" r="7.9"/>
<circle cx="907.3" cy="623.0" r="7.9"/>
<circle cx="922.0" cy="642.7" r="7.9"/>
<circle cx="796.1" cy="644.1" r="7.9"/>
<circle cx="920.6" cy="637.8" r="7.9"/>
<circle cx="922.6" cy="719.4" r="7.9"/>
<circle cx="875.9" cy="656.6" r="7.9"/>
<circle cx="873.0" cy="688.5" r="7.9"/>
<circle cx="927.7" cy="681.4" r="7.9"/>
<circle cx="904.1" cy="624.2" r="7.9"/>
<circle cx="810.0" cy="642.9" r="7.9"/>
<circle cx="923.2" cy="648.3" r="7.9"/>
<circle cx="889.9" cy="617.3" r="7.9"/>
<circle cx="793.5" cy="644.5" r="7.9"/>
<circle cx="909.7" cy="689.4" r="7.9"/>
<circle cx="910.4" cy="646.8" r="7.9"/>
<circle cx="870.6" cy="628.6" r="7.9"/>
<circle cx="951.8" cy="637.1" r="7.9"/>
<circle cx="967.8" cy="715.2" r="7.9"/>
<circle cx="785.3" cy="664.7" r="7.9"/>
<circle cx="937.8" cy="718.6" r="7.9"/>
<circle cx="867.4" cy="644.5" r="7.9"/>
<circle cx="821.9" cy="716.2" r="7.9"/>
<circle cx="822.0" cy="677.6" r="7.9"/>
<circle cx="808.9" cy="671.6" r="7.9"/>
<circle cx="963.0" cy="630.1" r="7.9"/>
<circle cx="937.8" cy="669.9" r="7.9"/>
<circle cx="950.5" cy="690.6" r="7.9"/>
<circle cx="826.0" cy="711.2" r="7.9"/>
<circle cx="874.4" cy="618.6" r="7.9"/>
<circle cx="850.9" cy="1233.9" r="7.9"/>
<circle cx="880.8" cy="1165.5" r="7.9"/>
<circle cx="885.1" cy="1215.6" r="7.9"/>
<circle cx="895.0" cy="1235.7" r="7.9"/>
<circle cx="906.9" cy="1201.4" r="7.9"/>
<circle cx="906.9" cy="1214.0" r="7.9"/>
<circle cx="918.7" cy="1243.7" r="7.9"/>
<circle cx="928.8" cy="1165.5" r="7.9"/>
<circle cx="928.8" cy="1170.6" r="7.9"/>
<circle cx="950.3" cy="1175.1" r="7.9"/>
<circle cx="954.9" cy="1177.9" r="7.9"/>
<circle cx="956.7" cy="1157.5" r="7.9"/>
<circle cx="972.7" cy="1150.0" r="7.9"/>
<circle cx="972.7" cy="1185.4" r="7.9"/>
<circle cx="986.9" cy="1186.6" r="7.9"/>
<circle cx="991.0" cy="1173.5" r="7.9"/>
<circle cx="978.9" cy="1225.4" r="7.9"/>
<circle cx="968.6" cy="1239.8" r="7.9"/>
<circle cx="978.9" cy="1239.8" r="7.9"/>
<circle cx="1002.9" cy="1241.9" r="7.9"/>
<circle cx="1013.1" cy="1189.5" r="7.9"/>
<circle cx="1013.1" cy="1204.9" r="7.9"/>
<circle cx="1013.1" cy="1216.3" r="7.9"/>
<circle cx="1028.5" cy="1207.6" r="7.9"/>
<circle cx="1037.1" cy="1222.0" r="7.9"/>
<circle cx="1034.4" cy="1227.7" r="7.9"/>
<circle cx="1002.9" cy="1152.3" r="7.9"/>
<circle cx="1009.7" cy="1147.7" r="7.9"/>
<circle cx="1018.4" cy="1146.1" r="7.9"/>
<circle cx="1016.6" cy="1154.6" r="7.9"/>
<circle cx="1026.9" cy="1150.7" r="7.9"/>
<circle cx="1032.6" cy="1145.4" r="7.9"/>
<circle cx="1040.6" cy="1152.3" r="7.9"/>
<circle cx="1040.6" cy="1187.7" r="7.9"/>
<circle cx="1048.6" cy="1200.3" r="7.9"/>
<circle cx="1046.3" cy="1166.0" r="7.9"/>
<circle cx="1055.4" cy="1178.6" r="7.9"/>
<circle cx="1057.7" cy="1158.0" r="7.9"/>
<circle cx="1060.0" cy="1167.1" r="7.9"/>
<circle cx="1064.6" cy="1143.1" r="7.9"/>
<circle cx="1055.4" cy="1222.0" r="7.9"/>
<circle cx="1055.4" cy="1230.0" r="7.9"/>
<circle cx="1068.0" cy="1243.7" r="7.9"/>
<circle cx="1078.3" cy="1241.9" r="7.9"/>
<circle cx="1599.3" cy="1151.5" r="7.9"/>
<circle cx="1603.2" cy="1156.0" r="7.9"/>
<circle cx="1500.7" cy="1143.6" r="7.9"/>
<circle cx="1486.3" cy="1149.4" r="7.9"/>
<circle cx="1474.4" cy="1161.3" r="7.9"/>
<circle cx="1486.3" cy="1167.8" r="7.9"/>
<circle cx="1496.8" cy="1177.0" r="7.9"/>
<circle cx="1486.3" cy="1179.7" r="7.9"/>
<circle cx="1498.1" cy="1191.5" r="7.9"/>
<circle cx="1474.4" cy="1198.1" r="7.9"/>
<circle cx="1453.4" cy="1150.7" r="7.9"/>
<circle cx="1461.3" cy="1153.4" r="7.9"/>
<circle cx="1461.3" cy="1184.9" r="7.9"/>
<circle cx="1469.2" cy="1184.9" r="7.9"/>
<circle cx="1527.0" cy="1190.2" r="7.9"/>
<circle cx="1541.5" cy="1199.4" r="7.9"/>
<circle cx="1529.6" cy="1204.6" r="7.9"/>
<circle cx="1511.2" cy="1204.6" r="7.9"/>
<circle cx="1519.1" cy="1215.2" r="7.9"/>
<circle cx="1486.3" cy="1238.8" r="7.9"/>
<circle cx="1458.7" cy="1242.8" r="7.9"/>
<circle cx="1462.6" cy="1246.7" r="7.9"/>
<circle cx="1466.5" cy="1228.3" r="7.9"/>
<circle cx="1458.7" cy="1203.3" r="7.9"/>
<circle cx="1450.8" cy="1208.6" r="7.9"/>
<circle cx="1463.9" cy="1213.8" r="7.9"/>
<circle cx="1437.6" cy="1215.2" r="7.9"/>
<circle cx="1438.9" cy="1174.4" r="7.9"/>
<circle cx="1438.9" cy="1186.2" r="7.9"/>
<circle cx="1438.9" cy="1196.8" r="7.9"/>
<circle cx="1425.8" cy="1203.3" r="7.9"/>
<circle cx="1412.6" cy="1203.3" r="7.9"/>
<circle cx="1396.9" cy="1145.5" r="7.9"/>
<circle cx="1424.5" cy="1146.8" r="7.9"/>
<circle cx="1415.3" cy="1152.1" r="7.9"/>
<circle cx="1420.5" cy="1157.3" r="7.9"/>
<circle cx="1298.3" cy="1146.8" r="7.9"/>
<circle cx="1256.2" cy="1141.5" r="7.9"/>
<circle cx="1243.1" cy="1145.5" r="7.9"/>
<circle cx="1252.3" cy="1163.9" r="7.9"/>
<circle cx="1262.8" cy="1179.7" r="7.9"/>
<circle cx="1258.9" cy="1204.6" r="7.9"/>
<circle cx="1306.2" cy="1217.8" r="7.9"/>
<circle cx="1247.0" cy="1223.0" r="7.9"/>
<circle cx="1258.9" cy="1232.2" r="7.9"/>
<circle cx="1235.2" cy="1232.2" r="7.9"/>
<circle cx="1239.1" cy="1242.8" r="7.9"/>
<circle cx="1198.4" cy="1244.1" r="7.9"/>
<circle cx="1197.1" cy="1230.9" r="7.9"/>
<circle cx="1211.5" cy="1232.2" r="7.9"/>
<circle cx="1062.5" cy="1191.1" r="7.9"/>
<circle cx="1131.0" cy="1170.6" r="7.9"/>
<circle cx="1083.5" cy="1175.1" r="7.9"/>
<circle cx="1110.4" cy="1228.7" r="7.9"/>
<circle cx="1062.3" cy="1219.1" r="7.9"/>
<circle cx="1190.4" cy="1151.0" r="7.9"/>
<circle cx="1203.7" cy="1215.0" r="7.9"/>
<circle cx="1199.9" cy="1169.3" r="7.9"/>
<circle cx="1118.9" cy="1180.4" r="7.9"/>
<circle cx="1214.8" cy="1201.6" r="7.9"/>
<circle cx="1117.2" cy="1184.2" r="7.9"/>
<circle cx="1104.1" cy="1143.2" r="7.9"/>
<circle cx="1077.6" cy="1228.1" r="7.9"/>
<circle cx="1105.7" cy="1239.0" r="7.9"/>
<circle cx="1140.2" cy="1158.5" r="7.9"/>
<circle cx="1119.1" cy="1241.3" r="7.9"/>
<circle cx="1197.3" cy="1225.7" r="7.9"/>
<circle cx="1158.5" cy="1236.6" r="7.9"/>
<circle cx="1205.9" cy="1197.3" r="7.9"/>
<circle cx="1172.1" cy="1143.3" r="7.9"/>
<circle cx="1174.0" cy="1186.7" r="7.9"/>
<circle cx="1177.2" cy="1207.6" r="7.9"/>
<circle cx="1105.8" cy="1143.3" r="7.9"/>
<circle cx="1203.8" cy="1151.7" r="7.9"/>
<circle cx="1134.2" cy="1175.1" r="7.9"/>
<circle cx="1107.6" cy="1217.8" r="7.9"/>
<circle cx="1211.4" cy="1166.1" r="7.9"/>
<circle cx="1162.4" cy="1170.5" r="7.9"/>
<circle cx="1147.3" cy="1180.6" r="7.9"/>
<circle cx="1087.6" cy="1155.5" r="7.9"/>
<circle cx="1093.8" cy="1235.8" r="7.9"/>
<circle cx="1138.1" cy="1161.8" r="7.9"/>
<circle cx="1200.7" cy="1245.6" r="7.9"/>
<circle cx="1130.8" cy="1153.1" r="7.9"/>
<circle cx="1091.4" cy="1147.8" r="7.9"/>
<circle cx="1114.3" cy="1147.8" r="7.9"/>
<circle cx="1149.2" cy="1233.8" r="7.9"/>
<circle cx="1176.7" cy="1182.6" r="7.9"/>
<circle cx="1125.3" cy="1194.6" r="7.9"/>
<circle cx="1119.7" cy="1174.5" r="7.9"/>
<circle cx="1071.5" cy="1168.0" r="7.9"/>
<circle cx="1210.1" cy="1151.6" r="7.9"/>
<circle cx="1139.0" cy="1206.0" r="7.9"/>
<circle cx="1194.0" cy="1161.3" r="7.9"/>
<circle cx="1123.2" cy="1186.2" r="7.9"/>
<circle cx="1208.0" cy="1229.7" r="7.9"/>
<circle cx="1195.6" cy="1140.4" r="7.9"/>
<circle cx="1066.9" cy="1214.6" r="7.9"/>
<circle cx="1199.0" cy="1189.1" r="7.9"/>
<circle cx="1151.8" cy="1138.0" r="7.9"/>
<circle cx="1121.9" cy="1238.1" r="7.9"/>
<circle cx="1188.3" cy="1230.4" r="7.9"/>
<circle cx="1210.8" cy="1164.8" r="7.9"/>
<circle cx="1078.7" cy="1154.7" r="7.9"/>
<circle cx="1141.9" cy="1211.7" r="7.9"/>
<circle cx="1206.0" cy="1215.9" r="7.9"/>
<circle cx="1161.0" cy="1220.6" r="7.9"/>
<circle cx="1132.0" cy="1197.6" r="7.9"/>
<circle cx="1068.1" cy="1222.5" r="7.9"/>
<circle cx="1097.6" cy="1237.4" r="7.9"/>
<circle cx="1160.8" cy="1170.8" r="7.9"/>
<circle cx="1081.6" cy="1165.2" r="7.9"/>
<circle cx="1159.4" cy="1213.4" r="7.9"/>
<circle cx="1079.2" cy="1145.6" r="7.9"/>
<circle cx="1142.2" cy="1201.0" r="7.9"/>
<circle cx="1121.4" cy="1162.1" r="7.9"/>
<circle cx="1154.0" cy="1139.1" r="7.9"/>
<circle cx="1108.1" cy="1187.8" r="7.9"/>
<circle cx="1208.7" cy="1207.6" r="7.9"/>
<circle cx="1197.2" cy="1189.3" r="7.9"/>
<circle cx="1209.0" cy="1214.1" r="7.9"/>
<circle cx="1109.0" cy="1140.4" r="7.9"/>
<circle cx="1138.2" cy="1210.8" r="7.9"/>
<circle cx="1126.3" cy="1165.8" r="7.9"/>
<circle cx="1164.1" cy="1237.9" r="7.9"/>
<circle cx="1096.7" cy="1141.7" r="7.9"/>
<circle cx="1113.7" cy="1183.4" r="7.9"/>
<circle cx="1166.4" cy="1159.4" r="7.9"/>
<circle cx="1184.0" cy="1217.8" r="7.9"/>
<circle cx="1139.2" cy="1160.2" r="7.9"/>
<circle cx="1210.4" cy="1171.7" r="7.9"/>
<circle cx="1187.5" cy="1162.9" r="7.9"/>
<circle cx="1095.9" cy="1220.1" r="7.9"/>
<circle cx="1107.1" cy="1240.8" r="7.9"/>
<circle cx="1137.9" cy="1158.2" r="7.9"/>
<circle cx="1096.2" cy="1183.0" r="7.9"/>
<circle cx="1163.8" cy="1240.5" r="7.9"/>
<circle cx="1084.4" cy="1180.5" r="7.9"/>
<circle cx="1094.6" cy="1243.2" r="7.9"/>
<circle cx="1083.7" cy="1143.6" r="7.9"/>
<circle cx="1071.2" cy="1180.5" r="7.9"/>
<circle cx="1199.4" cy="1233.4" r="7.9"/>
<circle cx="1174.1" cy="1245.7" r="7.9"/>
<circle cx="1204.5" cy="1173.6" r="7.9"/>
<circle cx="1090.4" cy="1239.1" r="7.9"/>
<circle cx="1176.2" cy="1141.4" r="7.9"/>
<circle cx="1163.7" cy="1178.9" r="7.9"/>
<circle cx="1119.2" cy="1173.8" r="7.9"/>
<circle cx="1087.9" cy="1138.3" r="7.9"/>
<circle cx="1104.8" cy="1176.0" r="7.9"/>
<circle cx="1208.2" cy="1151.4" r="7.9"/>
<circle cx="1209.5" cy="1160.4" r="7.9"/>
<circle cx="1116.6" cy="1226.7" r="7.9"/>
<circle cx="1187.8" cy="1184.7" r="7.9"/>
<circle cx="1069.5" cy="1189.1" r="7.9"/>
<circle cx="1119.0" cy="1237.3" r="7.9"/>
<circle cx="1091.5" cy="1177.3" r="7.9"/>
<circle cx="1199.2" cy="1141.3" r="7.9"/>
<circle cx="1124.9" cy="1225.7" r="7.9"/>
<circle cx="1179.3" cy="1142.4" r="7.9"/>
<circle cx="1202.8" cy="1165.8" r="7.9"/>
<circle cx="1176.3" cy="1235.0" r="7.9"/>
<circle cx="1113.9" cy="1167.4" r="7.9"/>
<circle cx="1208.5" cy="1204.6" r="7.9"/>
<circle cx="1110.4" cy="1167.8" r="7.9"/>
<circle cx="1062.6" cy="1219.6" r="7.9"/>
<circle cx="1202.2" cy="1206.5" r="7.9"/>
<circle cx="1206.3" cy="1140.6" r="7.9"/>
<circle cx="1097.8" cy="1189.3" r="7.9"/>
<circle cx="1208.4" cy="1241.0" r="7.9"/>
<circle cx="1121.1" cy="1165.1" r="7.9"/>
<circle cx="1127.8" cy="1191.3" r="7.9"/>
<circle cx="1204.0" cy="1157.8" r="7.9"/>
<circle cx="1184.8" cy="1217.8" r="7.9"/>
<circle cx="1187.9" cy="1221.5" r="7.9"/>
<circle cx="1154.9" cy="1173.4" r="7.9"/>
<circle cx="1110.9" cy="1177.1" r="7.9"/>
<circle cx="1181.7" cy="1146.5" r="7.9"/>
<circle cx="1092.2" cy="1219.3" r="7.9"/>
<circle cx="1099.8" cy="1145.0" r="7.9"/>
<circle cx="1067.2" cy="1197.7" r="7.9"/>
<circle cx="1111.8" cy="1243.9" r="7.9"/>
<circle cx="1197.2" cy="1244.7" r="7.9"/>
<circle cx="1102.5" cy="1147.1" r="7.9"/>
<circle cx="1076.8" cy="1191.8" r="7.9"/>
<circle cx="1170.6" cy="1186.3" r="7.9"/>
<circle cx="1097.8" cy="1183.0" r="7.9"/>
<circle cx="1156.9" cy="1210.8" r="7.9"/>
<circle cx="1176.4" cy="1229.5" r="7.9"/>
<circle cx="1190.7" cy="1169.7" r="7.9"/>
<circle cx="1054.6" cy="1188.0" r="7.9"/>
<circle cx="1057.5" cy="1174.9" r="7.9"/>
<circle cx="1049.2" cy="1178.4" r="7.9"/>
<circle cx="1047.6" cy="1226.3" r="7.9"/>
<circle cx="1054.8" cy="1184.5" r="7.9"/>
<circle cx="1051.7" cy="1234.4" r="7.9"/>
<circle cx="1275.6" cy="1207.9" r="7.9"/>
<circle cx="1289.3" cy="1150.6" r="7.9"/>
<circle cx="1250.6" cy="1225.2" r="7.9"/>
<circle cx="1278.0" cy="1235.1" r="7.9"/>
<circle cx="1218.0" cy="1170.5" r="7.9"/>
<circle cx="1223.9" cy="1159.7" r="7.9"/>
<circle cx="1288.0" cy="1200.7" r="7.9"/>
<circle cx="1284.8" cy="1178.7" r="7.9"/>
<circle cx="1280.0" cy="1186.7" r="7.9"/>
<circle cx="1234.5" cy="1220.9" r="7.9"/>
<circle cx="1285.9" cy="1151.0" r="7.9"/>
<circle cx="1259.7" cy="1204.5" r="7.9"/>
<circle cx="1231.3" cy="1178.3" r="7.9"/>
<circle cx="1225.6" cy="1161.2" r="7.9"/>
<circle cx="1234.1" cy="1202.3" r="7.9"/>
<circle cx="1215.9" cy="1174.0" r="7.9"/>
<circle cx="1238.4" cy="1161.2" r="7.9"/>
<circle cx="1274.6" cy="1197.0" r="7.9"/>
<circle cx="1219.7" cy="1150.5" r="7.9"/>
<circle cx="1244.6" cy="1197.2" r="7.9"/>
<circle cx="1262.9" cy="1149.5" r="7.9"/>
<circle cx="1227.3" cy="1212.3" r="7.9"/>
<circle cx="1245.7" cy="1169.5" r="7.9"/>
<circle cx="1238.1" cy="1239.1" r="7.9"/>
<circle cx="1238.4" cy="1198.9" r="7.9"/>
<circle cx="1241.8" cy="1183.3" r="7.9"/>
<circle cx="1279.8" cy="1243.6" r="7.9"/>
<circle cx="1242.3" cy="1160.5" r="7.9"/>
<circle cx="1215.4" cy="1233.8" r="7.9"/>
<circle cx="1246.8" cy="1225.3" r="7.9"/>
<circle cx="1363.1" cy="1193.0" r="7.9"/>
<circle cx="1373.0" cy="1149.8" r="7.9"/>
<circle cx="1292.7" cy="1173.1" r="7.9"/>
<circle cx="1405.3" cy="1194.6" r="7.9"/>
<circle cx="1306.0" cy="1177.3" r="7.9"/>
<circle cx="1356.8" cy="1170.3" r="7.9"/>
<circle cx="1316.3" cy="1157.0" r="7.9"/>
<circle cx="1383.8" cy="1195.5" r="7.9"/>
<circle cx="1309.6" cy="1169.4" r="7.9"/>
<circle cx="1434.9" cy="1198.0" r="7.9"/>
<circle cx="1325.5" cy="1147.6" r="7.9"/>
<circle cx="1459.8" cy="1198.5" r="7.9"/>
<circle cx="1376.9" cy="1143.2" r="7.9"/>
<circle cx="1456.7" cy="1163.3" r="7.9"/>
<circle cx="1452.8" cy="1177.2" r="7.9"/>
<circle cx="1438.4" cy="1149.6" r="7.9"/>
<circle cx="1431.4" cy="1153.3" r="7.9"/>
<circle cx="1362.8" cy="1190.8" r="7.9"/>
<circle cx="1439.3" cy="1151.0" r="7.9"/>
<circle cx="1383.2" cy="1163.0" r="7.9"/>
<circle cx="1312.2" cy="1154.8" r="7.9"/>
<circle cx="1420.5" cy="1193.8" r="7.9"/>
<circle cx="1297.4" cy="1173.7" r="7.9"/>
<circle cx="1426.3" cy="1142.3" r="7.9"/>
<circle cx="1440.9" cy="1147.1" r="7.9"/>
<circle cx="1397.9" cy="1173.0" r="7.9"/>
<circle cx="1365.6" cy="1175.0" r="7.9"/>
<circle cx="1366.6" cy="1179.5" r="7.9"/>
<circle cx="1370.4" cy="1166.3" r="7.9"/>
<circle cx="1294.2" cy="1177.1" r="7.9"/>
<circle cx="1378.1" cy="1154.1" r="7.9"/>
<circle cx="1427.4" cy="1186.8" r="7.9"/>
<circle cx="1372.5" cy="1150.8" r="7.9"/>
<circle cx="1375.2" cy="1146.4" r="7.9"/>
<circle cx="1313.1" cy="1165.8" r="7.9"/>
<circle cx="1306.5" cy="1166.5" r="7.9"/>
<circle cx="1381.8" cy="1142.4" r="7.9"/>
<circle cx="1404.6" cy="1144.9" r="7.9"/>
<circle cx="1422.0" cy="1186.7" r="7.9"/>
<circle cx="1382.1" cy="1143.3" r="7.9"/>
<circle cx="1380.7" cy="1214.3" r="7.9"/>
<circle cx="1461.2" cy="1201.9" r="7.9"/>
<circle cx="1444.3" cy="1245.8" r="7.9"/>
<circle cx="1421.8" cy="1236.6" r="7.9"/>
<circle cx="1324.9" cy="1245.1" r="7.9"/>
<circle cx="1378.5" cy="1243.8" r="7.9"/>
<circle cx="1454.9" cy="1203.4" r="7.9"/>
<circle cx="1431.9" cy="1242.5" r="7.9"/>
<circle cx="1301.8" cy="1212.9" r="7.9"/>
<circle cx="1426.1" cy="1203.1" r="7.9"/>
<circle cx="1451.4" cy="1209.0" r="7.9"/>
<circle cx="1436.8" cy="1202.3" r="7.9"/>
<circle cx="1380.4" cy="1241.9" r="7.9"/>
<circle cx="1327.5" cy="1208.4" r="7.9"/>
<circle cx="1381.1" cy="1211.3" r="7.9"/>
<circle cx="1296.6" cy="1204.3" r="7.9"/>
<circle cx="1319.0" cy="1242.8" r="7.9"/>
<circle cx="1412.3" cy="1240.7" r="7.9"/>
<circle cx="1320.4" cy="1235.0" r="7.9"/>
<circle cx="1310.7" cy="1222.1" r="7.9"/>
<circle cx="1404.5" cy="1213.3" r="7.9"/>
<circle cx="1447.1" cy="1223.3" r="7.9"/>
<circle cx="1394.4" cy="1240.0" r="7.9"/>
<circle cx="1308.8" cy="1245.6" r="7.9"/>
<circle cx="1403.4" cy="1215.1" r="7.9"/>
<circle cx="1433.6" cy="1208.5" r="7.9"/>
<circle cx="1468.3" cy="1224.4" r="7.9"/>
<circle cx="1354.8" cy="1234.0" r="7.9"/>
<circle cx="1369.6" cy="1204.0" r="7.9"/>
<circle cx="1423.8" cy="1197.5" r="7.9"/>
<circle cx="1437.6" cy="1207.9" r="7.9"/>
<circle cx="1405.1" cy="1245.2" r="7.9"/>
<circle cx="1395.5" cy="1228.8" r="7.9"/>
<circle cx="1346.3" cy="1195.1" r="7.9"/>
<circle cx="1296.1" cy="1202.6" r="7.9"/>
<circle cx="1400.9" cy="1217.0" r="7.9"/>
<circle cx="1382.3" cy="1240.7" r="7.9"/>
<circle cx="1313.8" cy="1206.6" r="7.9"/>
<circle cx="1407.6" cy="1196.1" r="7.9"/>
<circle cx="1290.5" cy="1213.1" r="7.9"/>
<circle cx="1309.1" cy="1213.2" r="7.9"/>
<circle cx="1330.4" cy="1224.8" r="7.9"/>
<circle cx="1396.0" cy="1205.4" r="7.9"/>
<circle cx="1402.3" cy="1219.2" r="7.9"/>
<circle cx="1314.3" cy="1242.8" r="7.9"/>
<circle cx="1333.8" cy="1202.6" r="7.9"/>
<circle cx="1307.2" cy="1227.5" r="7.9"/>
<circle cx="1446.8" cy="1234.9" r="7.9"/>
<circle cx="1362.4" cy="1208.5" r="7.9"/>
<circle cx="1292.1" cy="1227.9" r="7.9"/>
<circle cx="1391.2" cy="1212.9" r="7.9"/>
<circle cx="1406.2" cy="1217.6" r="7.9"/>
<circle cx="1458.7" cy="1232.4" r="7.9"/>
<circle cx="1334.7" cy="1241.1" r="7.9"/>
<circle cx="1297.9" cy="1222.1" r="7.9"/>
<circle cx="1363.1" cy="1207.1" r="7.9"/>
<circle cx="1300.5" cy="1234.7" r="7.9"/>
<circle cx="1292.2" cy="1223.1" r="7.9"/>
<circle cx="1459.4" cy="1202.3" r="7.9"/>
<circle cx="1325.9" cy="1226.0" r="7.9"/>
<circle cx="1019.4" cy="1205.7" r="7.9"/>
<circle cx="1035.3" cy="1163.7" r="7.9"/>
<circle cx="1009.1" cy="1175.0" r="7.9"/>
<circle cx="995.5" cy="1228.0" r="7.9"/>
<circle cx="1033.7" cy="1212.4" r="7.9"/>
<circle cx="993.3" cy="1224.0" r="7.9"/>
<circle cx="1031.7" cy="1189.9" r="7.9"/>
<circle cx="1031.6" cy="1188.7" r="7.9"/>
<circle cx="1004.7" cy="1157.5" r="7.9"/>
</g>
<path d="M1116.7 1170.4 L1132.2 1185.9 L1116.7 1201.4 L1101.2 1185.9Z" fill="#ff8c00"/>
<path d="M1116.7 1178.4 L1124.2 1185.9 L1116.7 1193.4 L1109.2 1185.9Z" fill="#5a005a"/>
<rect x="310" y="1301.3" width="1310" height="1.6" fill="#ccd6eb"/>
<rect x="338.05" y="1302" width="1.5" height="18" fill="#ccd6eb"/>
<rect x="588.25" y="1302" width="1.5" height="18" fill="#ccd6eb"/>
<rect x="838.05" y="1302" width="1.5" height="18" fill="#ccd6eb"/>
<rect x="1088.25" y="1302" width="1.5" height="18" fill="#ccd6eb"/>
<rect x="1338.25" y="1302" width="1.5" height="18" fill="#ccd6eb"/>
<rect x="1588.25" y="1302" width="1.5" height="18" fill="#ccd6eb"/>
<rect x="1578" y="594.2" width="34" height="5.6" rx="2.8" fill="#666"/>
<rect x="1578" y="604.2" width="34" height="5.6" rx="2.8" fill="#666"/>
<rect x="1578" y="614.2" width="34" height="5.6" rx="2.8" fill="#666"/>
</svg>
<section class="sec chartlabels">
<span class="t" style="left:266.12px;top:659.00px;font-size:18.36px;line-height:18.36px;">1</span>
<span class="b" style="left:235.2px;top:786.4px;width:47.8px;height:23.5px;background:#f1f1f1;"></span>
<span class="t" style="left:244.10px;top:794.00px;font-size:18.79px;line-height:18.79px;letter-spacing:0.939px;transform:scaleX(1.0609);transform-origin:0 0;">0.5</span>
<span class="b" style="left:246.8px;top:921.8px;width:31.2px;height:18.7px;background:#f1f1f1;"></span>
<span class="t" style="left:249.40px;top:929.00px;font-size:5.00px;line-height:5.00px;letter-spacing:0.250px;transform:scaleX(1.3551);transform-origin:0 0;color:#222;">tes hasil</span>
<span class="b" style="left:237.0px;top:1050.8px;width:39.0px;height:20.2px;background:#f1f1f1;"></span>
<span class="t" style="left:251.09px;top:1056.00px;font-size:17.66px;line-height:17.66px;">0</span>
<span class="b" style="left:262.0px;top:1172.0px;width:20.0px;height:28.8px;background:#f1f1f1;transform:skewX(-6deg);"></span>
<span class="t" style="left:271px;top:1186px;font-size:7px;line-height:7px;letter-spacing:2px;color:#333;transform:translate(-50%,-50%) rotate(-84deg)">....</span>
<div class="dd" style="left:99px;top:872.5px;width:63px;height:158.5px"></div>
<span class="b" style="left:118.0px;top:921.0px;width:30.0px;height:67.6px;background:#f0f0ef;"></span>
<span class="t" style="left:137.8px;top:955px;font-size:27.2px;line-height:27.2px;transform:translate(-50%,-50%) rotate(-90deg);">0</span>
<span class="b" style="left:329.0px;top:1315.0px;width:20.0px;height:26.0px;background:#f1f1f1;"></span>
<span class="t" style="left:340.3px;top:1327.5px;font-size:5px;line-height:5px;letter-spacing:0.6px;color:#111;-webkit-text-stroke:0.2px #111;transform:translate(-50%,-50%) rotate(90deg)">fitur: 0</span>
<span class="t" style="left:584.77px;top:1320.00px;font-size:20.64px;line-height:20.64px;">2</span>
<span class="t" style="left:834.82px;top:1320.00px;font-size:20.64px;line-height:20.64px;">4</span>
<span class="b" style="left:1078.0px;top:1322.5px;width:22.0px;height:19.2px;background:#f1f1f1;"></span>
<span class="t" style="left:1078.74px;top:1329.00px;font-size:9.50px;line-height:9.50px;letter-spacing:0.351px;">Fitur</span>
<span class="b" style="left:1328.7px;top:1322.0px;width:21.3px;height:18.0px;background:#f1f1f1;"></span>
<span class="t" style="left:1330.32px;top:1327.00px;font-size:6.00px;line-height:6.00px;letter-spacing:0.300px;transform:scaleX(1.4167);transform-origin:0 0;color:#333;">Nilai</span>
<span class="b" style="left:1573.0px;top:1320.0px;width:38.0px;height:17.6px;background:#f1f1f1;"></span>
<span class="t" style="left:1574.38px;top:1326.00px;font-size:6.00px;line-height:6.00px;letter-spacing:0.300px;transform:scaleX(1.2850);transform-origin:0 0;color:#333;">Fitur nilai</span>
<div class="dd" style="left:764px;top:1375.2px;width:229px;height:64px"></div>
<span class="b" style="left:800.0px;top:1390.8px;width:153.8px;height:32.4px;background:#f0f0ef;"></span>
<span class="t" style="left:824.28px;top:1396.00px;font-size:30.52px;line-height:30.52px;letter-spacing:-0.140px;">Z-score</span>
</section>
<svg class="chart" style="left:0;top:1960px" width="1960" height="800" viewBox="0 1960 1960 800" font-family="Liberation Sans, sans-serif">
<rect x="244" y="2057.00" width="1642" height="1.6" fill="#e6e6e6"/>
<rect x="244" y="2207.20" width="1642" height="1.6" fill="#e6e6e6"/>
<rect x="244" y="2357.00" width="1642" height="1.6" fill="#e6e6e6"/>
<rect x="244" y="2506.80" width="1642" height="1.6" fill="#e6e6e6"/>
<rect x="244" y="2658.80" width="1642" height="1.6" fill="#e6e6e6"/>
<rect x="244" y="2668.6" width="1642" height="1.6" fill="#ccd6eb"/>
<g stroke="#0f5fd7" stroke-width="1.7" fill="none">
<path d="M654.5 2015.5V2471.6M556 2015.5H754M556 2471.6H754"/>
<path d="M1475 2119.6V2638M1376 2119.6H1574M1376 2638H1574"/>
</g>
<path d="M654.5 2243.4L1474.5 2379" stroke="#0f5fd7" stroke-width="3.4" fill="none"/>
<circle cx="654.5" cy="2243.4" r="8" fill="#0f5fd7"/><circle cx="1474.5" cy="2379" r="8" fill="#0f5fd7"/>
<rect x="1847" y="1995.2" width="34" height="5.6" rx="2.8" fill="#666"/>
<rect x="1847" y="2005.2" width="34" height="5.6" rx="2.8" fill="#666"/>
<rect x="1847" y="2015.2" width="34" height="5.6" rx="2.8" fill="#666"/>
<text transform="translate(144.8 2327.5) rotate(-90)" text-anchor="middle" font-size="25.5" fill="#666">Values</text>
</svg>
<section class="sec chart2labels">
<span class="b" style="left:178.3px;top:2041.0px;width:37.6px;height:24.7px;background:#f1f1f1;"></span>
<span class="t" style="left:179.34px;top:2050.00px;font-size:8.00px;line-height:8.00px;letter-spacing:-0.240px;transform:scaleX(0.9735);transform-origin:0 0;color:#222;">YOE(num)</span>
<span class="b" style="left:198.6px;top:2195.4px;width:15.9px;height:22.6px;background:#f1f1f1;"></span>
<span class="t" style="left:200.37px;top:2203.00px;font-size:7.00px;line-height:7.00px;color:#555;">...</span>
<span class="t" style="left:167.22px;top:2345.00px;font-size:26.16px;line-height:26.16px;letter-spacing:0.695px;">-0.2</span>
<span class="t" style="left:167.22px;top:2495.00px;font-size:26.16px;line-height:26.16px;letter-spacing:0.477px;">-0.4</span>
<span class="t" style="left:167.22px;top:2645.00px;font-size:26.16px;line-height:26.16px;letter-spacing:0.608px;">-0.6</span>
<span class="t" style="left:589.68px;top:2690.00px;font-size:27.62px;line-height:27.62px;">YOE(num)</span>
<span class="t" style="left:1195.29px;top:2690.00px;font-size:27.62px;line-height:27.62px;letter-spacing:0.604px;">Number of github repos contributed to(num)</span>
</section>
</body></html>
